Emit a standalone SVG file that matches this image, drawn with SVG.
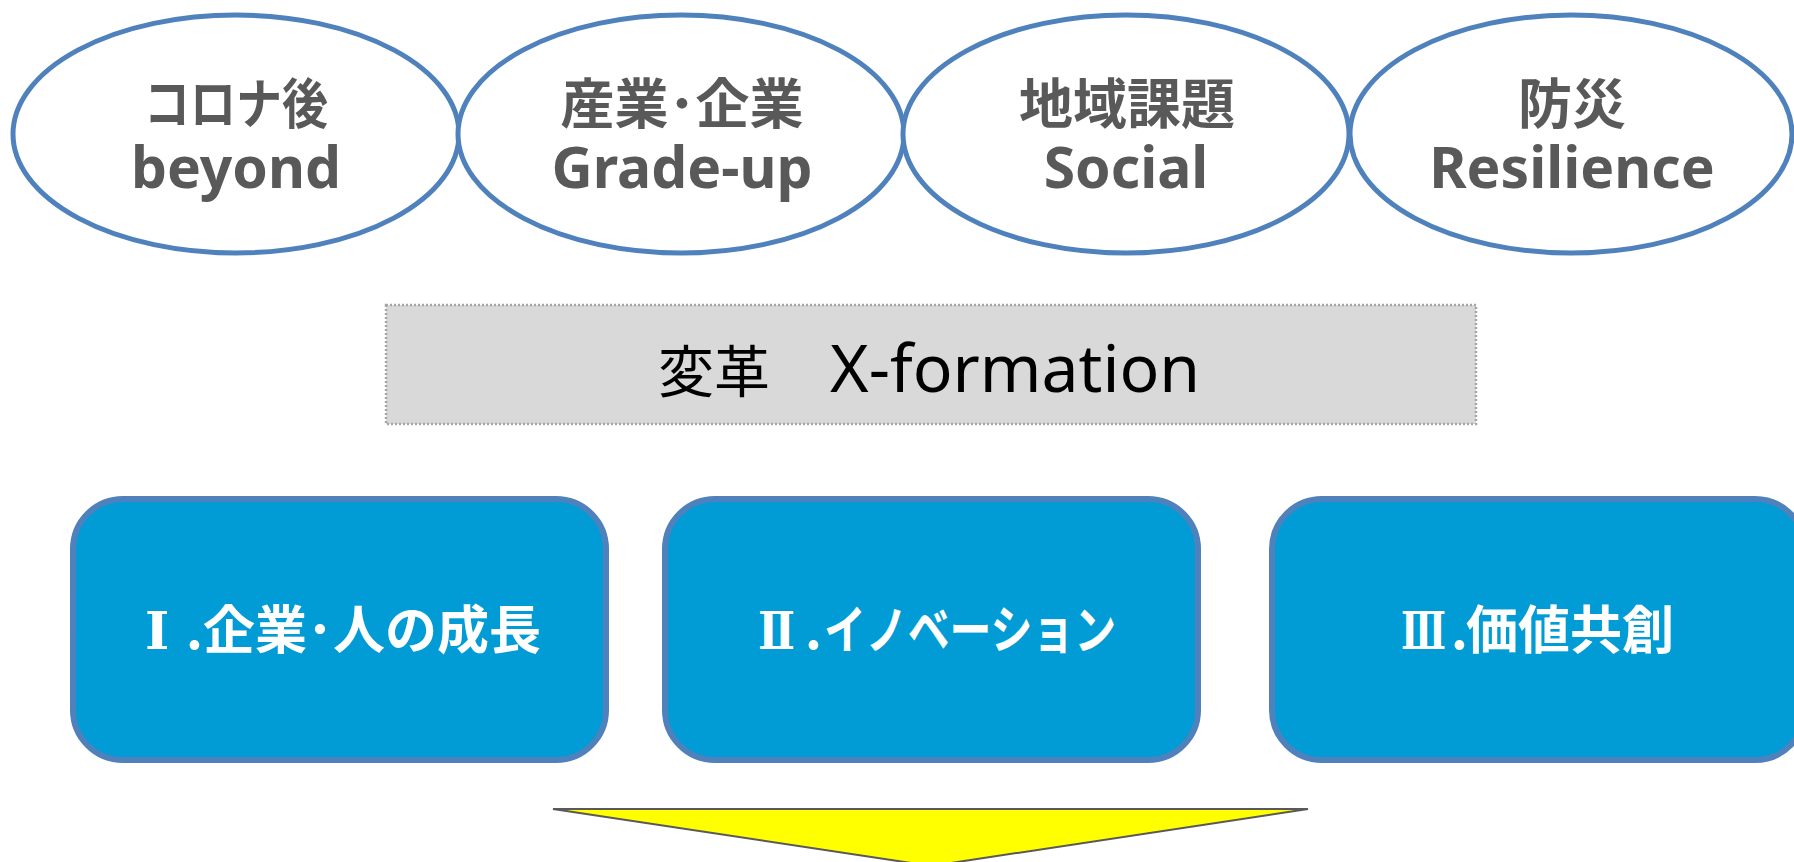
<svg xmlns="http://www.w3.org/2000/svg" width="1794" height="862" viewBox="0 0 1794 862">
<style>
.ell{fill:#FFFFFF;stroke:#4F81BD;stroke-width:5}
.et1{font-family:"Noto Sans CJK JP",sans-serif;font-weight:700;font-size:54px;fill:#595959;text-anchor:middle}
.et2{font-family:"Noto Sans","Noto Sans CJK JP",sans-serif;font-weight:700;font-size:57px;fill:#595959;text-anchor:middle}
.gray{fill:#D9D9D9;stroke:#A6A6A6;stroke-width:2.5;stroke-dasharray:2 2}
.gt{font-family:"Noto Sans","Noto Sans CJK JP",sans-serif;fill:#000000}
.cj{font-family:"Noto Sans CJK JP",sans-serif;font-size:56px}
.lt{font-size:66px}
.box{fill:#019CD5;stroke:#4F81BD;stroke-width:6}
.bt{font-family:"Noto Sans CJK JP",sans-serif;font-weight:700;font-size:52px;fill:#FFFFFF}
.rn{font-family:"DejaVu Serif","Noto Sans CJK JP",serif;font-weight:700}
.tri{fill:#FFFF00;stroke:#595959;stroke-width:2;stroke-linejoin:miter}
</style>
<rect width="1794" height="862" fill="#FFFFFF"/>
<g id="ellipse-beyond">
<ellipse class="ell" cx="236" cy="134" rx="223" ry="119"/>
<text class="et1" x="236" y="124" textLength="184" lengthAdjust="spacingAndGlyphs">コロナ後</text>
<text class="et2" x="236" y="188">beyond</text>
</g>
<g id="ellipse-gradeup">
<ellipse class="ell" cx="681" cy="134" rx="223" ry="119"/>
<text class="et1" x="682" y="124">産業･企業</text>
<text class="et2" x="682" y="188">Grade-up</text>
</g>
<g id="ellipse-social">
<ellipse class="ell" cx="1126" cy="134" rx="223" ry="119"/>
<text class="et1" x="1127" y="124">地域課題</text>
<text class="et2" x="1126" y="188">Social</text>
</g>
<g id="ellipse-resilience">
<ellipse class="ell" cx="1571" cy="134" rx="221" ry="119"/>
<text class="et1" x="1572" y="124">防災</text>
<text class="et2" x="1572" y="188">Resilience</text>
</g>
<g id="xformation">
<rect class="gray" x="386" y="305" width="1090" height="119"/>
<text class="gt" x="658" y="392"><tspan class="cj">変革　</tspan><tspan class="lt" dx="4">X-formation</tspan></text>
</g>
<g id="box-1">
<rect class="box" x="73" y="499" width="533" height="261" rx="50" ry="50"/>
<text class="bt" y="649"><tspan class="rn" x="145">Ⅰ</tspan><tspan x="186">.</tspan><tspan x="203">企業･人の成長</tspan></text>
</g>
<g id="box-2">
<rect class="box" x="665" y="499" width="533" height="261" rx="50" ry="50"/>
<text class="bt" y="649"><tspan class="rn" x="758" textLength="37" lengthAdjust="spacingAndGlyphs">Ⅱ</tspan><tspan x="805">.</tspan><tspan x="824" textLength="292" lengthAdjust="spacingAndGlyphs">イノベーション</tspan></text>
</g>
<g id="box-3">
<rect class="box" x="1272" y="499" width="533" height="261" rx="50" ry="50"/>
<text class="bt" y="649"><tspan class="rn" x="1401" textLength="45" lengthAdjust="spacingAndGlyphs">Ⅲ</tspan><tspan x="1451">.</tspan><tspan x="1466">価値共創</tspan></text>
</g>
<g id="connectors">
<polygon class="tri" points="553,809 1308,809 931,866"/>
</g>
</svg>
